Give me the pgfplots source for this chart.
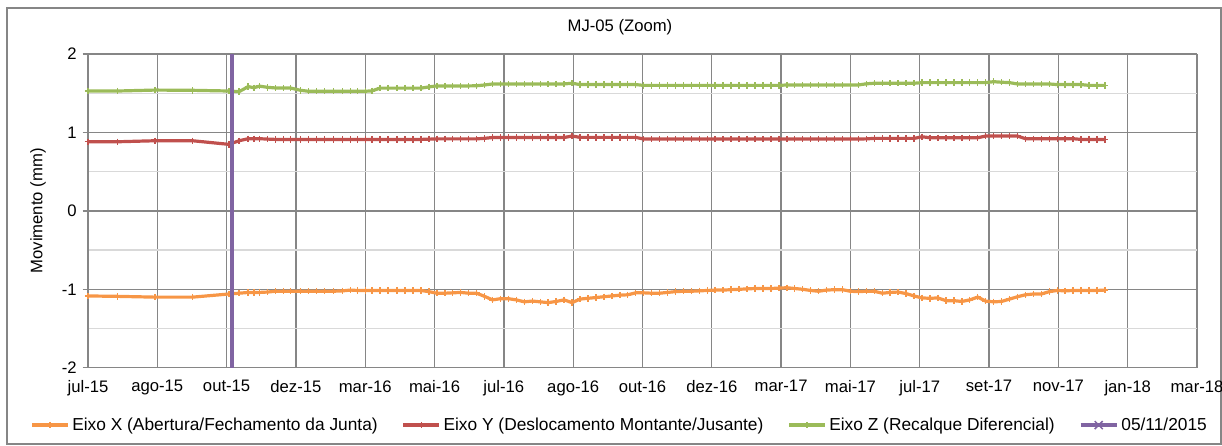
\documentclass[border=0pt]{standalone}
\usepackage{pgfplots}
\pgfplotsset{compat=1.18}
\usepackage{pgfplotstable}
\usepackage{fontspec}
\setmainfont{Liberation Sans}
\definecolor{sx}{RGB}{247,150,70}
\definecolor{sy}{RGB}{192,80,77}
\definecolor{sz}{RGB}{155,187,89}
\definecolor{sp}{RGB}{128,100,162}
\definecolor{gmaj}{RGB}{134,134,134}
\definecolor{gmin}{RGB}{217,217,217}
\pgfplotstableread{
d X Y Z
0 -1.085 0.881 1.528
26 -1.090 0.881 1.528
59 -1.100 0.894 1.540
92 -1.100 0.894 1.537
124 -1.060 0.848 1.528
133 -1.050 0.894 1.520
141 -1.040 0.920 1.584
146 -1.040 0.920 1.570
151 -1.040 0.920 1.590
158 -1.035 0.915 1.575
165 -1.025 0.911 1.567
172 -1.025 0.911 1.567
178 -1.025 0.911 1.567
187 -1.025 0.911 1.537
194 -1.025 0.911 1.525
201 -1.025 0.911 1.525
208 -1.025 0.911 1.525
216 -1.025 0.911 1.525
224 -1.020 0.911 1.525
231 -1.010 0.911 1.525
237 -1.015 0.911 1.525
244 -1.015 0.911 1.525
250 -1.015 0.911 1.530
257 -1.015 0.911 1.565
264 -1.015 0.911 1.565
272 -1.015 0.911 1.565
279 -1.015 0.911 1.565
286 -1.015 0.911 1.565
293 -1.015 0.911 1.565
300 -1.030 0.914 1.580
307 -1.050 0.918 1.593
314 -1.050 0.918 1.593
321 -1.045 0.918 1.593
328 -1.040 0.918 1.593
335 -1.050 0.918 1.593
342 -1.050 0.918 1.595
349 -1.090 0.925 1.605
356 -1.135 0.935 1.618
363 -1.120 0.935 1.618
370 -1.120 0.935 1.618
377 -1.135 0.935 1.618
384 -1.160 0.935 1.618
391 -1.150 0.935 1.618
398 -1.160 0.935 1.618
405 -1.170 0.935 1.618
412 -1.155 0.935 1.618
419 -1.135 0.935 1.618
426 -1.170 0.954 1.627
433 -1.125 0.937 1.610
440 -1.115 0.937 1.610
447 -1.105 0.937 1.610
454 -1.095 0.937 1.610
461 -1.085 0.937 1.610
468 -1.075 0.937 1.610
475 -1.070 0.937 1.610
482 -1.045 0.937 1.610
489 -1.045 0.916 1.600
496 -1.050 0.916 1.600
503 -1.050 0.916 1.600
510 -1.040 0.916 1.600
517 -1.030 0.916 1.600
524 -1.025 0.916 1.600
531 -1.025 0.916 1.600
538 -1.020 0.916 1.600
545 -1.015 0.916 1.600
552 -1.010 0.916 1.600
559 -1.010 0.916 1.600
566 -1.005 0.916 1.600
573 -1.000 0.916 1.600
580 -0.995 0.916 1.600
587 -0.990 0.916 1.600
594 -0.990 0.916 1.600
601 -0.990 0.916 1.600
608 -0.985 0.916 1.600
615 -0.980 0.916 1.605
622 -0.990 0.916 1.605
629 -1.000 0.916 1.605
636 -1.015 0.916 1.605
643 -1.025 0.916 1.605
650 -1.010 0.916 1.605
657 -1.005 0.916 1.605
664 -1.005 0.916 1.605
671 -1.025 0.916 1.605
678 -1.030 0.916 1.605
685 -1.025 0.918 1.620
692 -1.025 0.924 1.627
699 -1.050 0.924 1.627
706 -1.040 0.924 1.627
713 -1.035 0.924 1.627
720 -1.055 0.924 1.627
727 -1.085 0.924 1.627
734 -1.110 0.945 1.635
741 -1.115 0.932 1.635
748 -1.110 0.932 1.635
755 -1.145 0.932 1.635
762 -1.145 0.932 1.635
769 -1.155 0.932 1.635
776 -1.135 0.932 1.635
783 -1.100 0.932 1.635
790 -1.150 0.954 1.635
797 -1.160 0.954 1.647
804 -1.155 0.954 1.640
811 -1.125 0.954 1.635
818 -1.095 0.954 1.618
825 -1.070 0.920 1.618
832 -1.060 0.920 1.618
839 -1.060 0.920 1.618
846 -1.030 0.920 1.618
853 -1.015 0.920 1.610
860 -1.020 0.920 1.610
867 -1.015 0.920 1.610
874 -1.015 0.911 1.610
881 -1.015 0.911 1.600
888 -1.015 0.911 1.600
895 -1.010 0.911 1.600
}\datatable
\begin{document}
\begin{tikzpicture}
\useasboundingbox (-66pt,-58pt) rectangle (850.5pt,275.8pt);
\draw[gmaj,line width=0.8pt] (-60.75pt,-57.2pt) rectangle (849.75pt,269.8pt);
\begin{axis}[
  scale only axis,
  width=831.75pt, height=235.3pt,
  xmin=0, xmax=976, ymin=-2, ymax=2,
  xtick={0,61,122,183,244,305,366,427,488,549,610,671,732,793,854,915,976},
  xticklabels={jul-15,ago-15,out-15,dez-15,mar-16,mai-16,jul-16,ago-16,out-16,dez-16,mar-17,mai-17,jul-17,set-17,nov-17,jan-18,mar-18},
  ytick={-2,-1,0,1,2},
  yticklabels={-2,-1,0,1,2},
  minor ytick={-1.5,-0.5,0.5,1.5},
  grid=both,
  major grid style={gmaj,line width=1pt},
  minor grid style={gmin,line width=1pt},
  axis line style={gmaj,line width=1pt},
  axis x line*=bottom, axis y line*=left,
  tick align=outside,
  major tick length=4pt,
  minor tick length=0pt,
  xtick style={draw=none},
  ytick style={gmaj,line width=1pt},
  ticklabel style={font=\fontsize{12.5}{15}\selectfont, text=black},
  xticklabel style={yshift=-2pt},
  yticklabel style={xshift=-1pt},
  legend style={draw=none, fill=none, at={(0.4797,-0.1827)}, anchor=center,
    font=\fontsize{13}{15.6}\selectfont, legend columns=4,
    /tikz/every even column/.append style={column sep=16pt},
    inner sep=0pt},
  legend image code/.code={\draw[mark repeat=2,mark phase=2] plot coordinates {(0pt,0pt) (13.5pt,0pt) (27pt,0pt)};},
  clip mode=individual,
  title={MJ-05 (Zoom)},
  title style={at={(axis description cs:0.4797,1.0606)}, anchor=center, font=\fontsize{12.5}{15}\selectfont},
  ylabel={Movimento (mm)},
  ylabel style={at={(axis description cs:-0.0451,0.5)}, anchor=center, rotate=0, font=\fontsize{12.5}{15}\selectfont},
]
\addplot[sx, line width=2.4pt, mark=+, mark size=2.4pt, mark options={line width=1.1pt, solid}] table[x=d,y=X] {\datatable};
\addlegendentry{Eixo X (Abertura/Fechamento da Junta)}
\addplot[sy, line width=2.4pt, mark=+, mark size=2.4pt, mark options={line width=1.1pt, solid}] table[x=d,y=Y] {\datatable};
\addlegendentry{Eixo Y (Deslocamento Montante/Jusante)}
\addplot[sz, line width=2.4pt, mark=+, mark size=2.4pt, mark options={line width=1.1pt, solid}] table[x=d,y=Z] {\datatable};
\addlegendentry{Eixo Z (Recalque Diferencial)}
\addplot[sp, line width=3pt, no marks,
  legend image code/.code={\draw[sp,line width=3pt] (0pt,0pt)--(27pt,0pt); \draw[sp,line width=1.1pt] (10.5pt,-3pt)--(16.5pt,3pt) (10.5pt,3pt)--(16.5pt,-3pt);}] coordinates {(127,-2) (127,2)};
\addlegendentry{05/11/2015}
\end{axis}
\end{tikzpicture}
\end{document}
